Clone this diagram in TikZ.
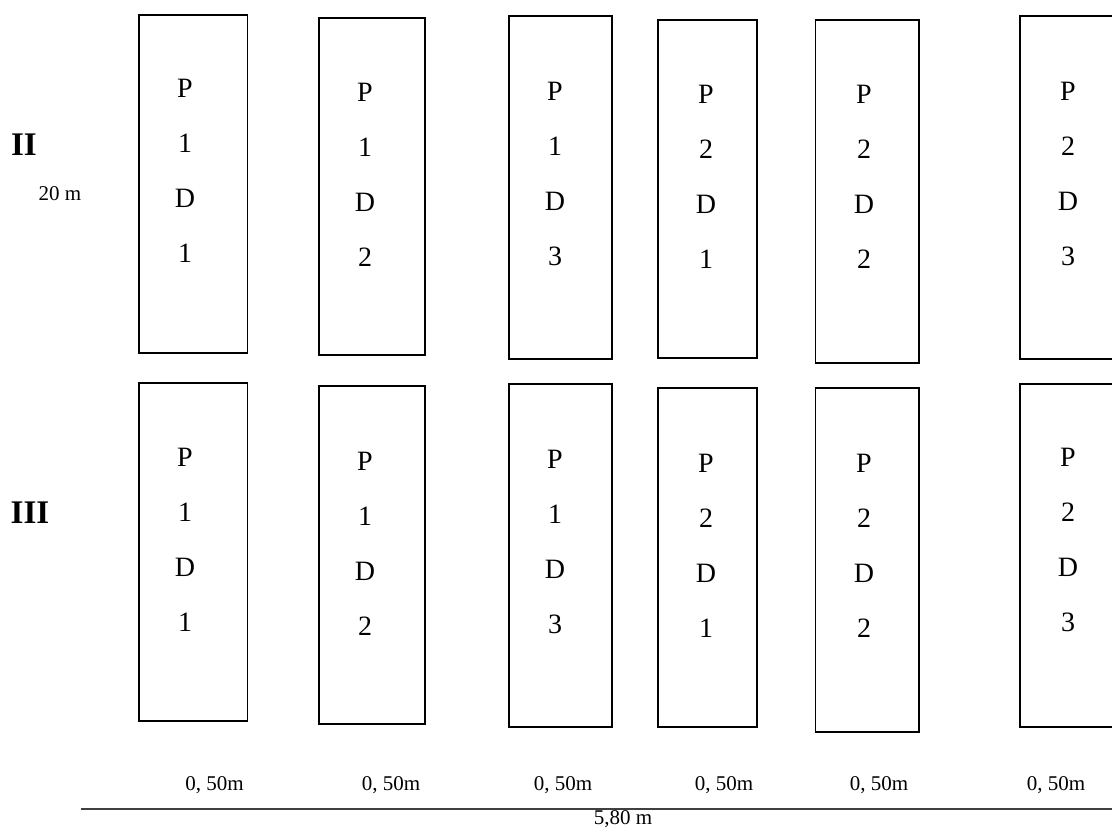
\documentclass[tikz,border=0pt]{standalone}
\usepackage{fontspec}
\setmainfont{Liberation Serif}
\begin{document}
\begin{tikzpicture}[x=1pt,y=-1pt,
  plotbox/.style={draw, line width=1.8pt, inner sep=0pt},
  plotlabel/.style={align=center, inner sep=0pt, font=\fontsize{28}{55}\selectfont},
  dimlabel/.style={anchor=base, inner sep=0pt, font=\fontsize{21}{24}\selectfont},
  rowlabel/.style={anchor=base, inner sep=0pt, font=\fontsize{33}{36}\selectfont\bfseries},
  dimline/.style={draw=black!75, line width=1.3pt}]
\useasboundingbox (0,0) rectangle (1112,828);
\clip (0,0) rectangle (1112,828);
% plots: name / left / top / right / bottom / text x / text y / first digit / second digit
\foreach \n/\l/\t/\r/\b/\tx/\ty/\a/\c in {
  t1/137.7/14/248.3/354/185/170.5/1/1,
  t2/318/16.7/426/356/365/175/1/2,
  t3/508/14.7/612.5/360/555/173.5/1/3,
  t4/657/19/758/359/706/176.5/2/1,
  t5/814.6/19/920/364/864/177/2/2,
  t6/1018.75/14.7/1130/360/1068/173.5/2/3,
  b1/137.7/381.7/248.3/721.7/185/540/1/1,
  b2/318/385/426/725/365/543.5/1/2,
  b3/508/382.7/612.5/728/555/541.5/1/3,
  b4/657/386.7/758/728/706/545.5/2/1,
  b5/814.6/386.7/920/733/864/545.5/2/2,
  b6/1018.75/382.7/1130/728/1068/540/2/3} {
  \node[plotbox, minimum width={\r-\l-1.8}, minimum height={\b-\t-1.8}]
    (\n) at ({(\l+\r)/2},{(\t+\b)/2}) {};
  \node[plotlabel] (\n txt) at (\tx,\ty) {P\\\a\\D\\\c};
}
% row labels
\node[rowlabel] (rowII) at (24,155) {II};
\node[rowlabel] (rowIII) at (30,523.3) {III};
\node[dimlabel] (len) at (60,200) {20 m};
% width labels
\foreach \i/\x in {1/214.5,2/391,3/563,4/724,5/879,6/1056} {
  \node[dimlabel] (w\i) at (\x,790) {0, 50m};
}
\coordinate (dimL) at (80.7,809);
\coordinate (dimR) at (1112,809);
\draw[dimline] (dimL) -- (dimR);
\node[dimlabel] (total) at (623,824) {5,80 m};
\end{tikzpicture}
\end{document}
